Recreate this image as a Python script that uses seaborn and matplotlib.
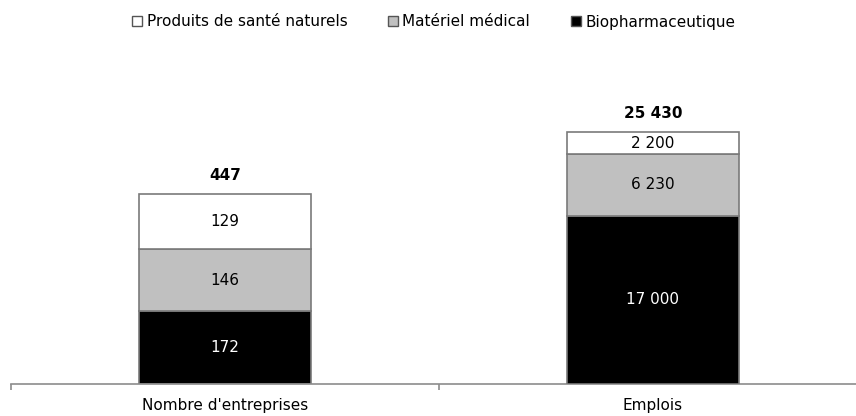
import matplotlib
matplotlib.use("Agg")
import matplotlib.pyplot as plt
from matplotlib.lines import Line2D
import seaborn as sns

# Data
categories = ["Nombre d'entreprises", "Emplois"]
series_names = ["Biopharmaceutique", "Matériel médical", "Produits de santé naturels"]
entreprises = [172, 146, 129]
emplois = [17000, 6230, 2200]
totals = [447, 25430]

colors = {"Biopharmaceutique": "#000000",
          "Matériel médical": "#c0c0c0",
          "Produits de santé naturels": "#ffffff"}
text_colors = {"Biopharmaceutique": "white",
               "Matériel médical": "black",
               "Produits de santé naturels": "black"}

sns.set_style("white")
plt.rcParams["font.family"] = ["DejaVu Sans"]
plt.rcParams["text.color"] = "black"
plt.rcParams["xtick.color"] = "black"
plt.rcParams["xtick.labelcolor"] = "black"
FS = 11


def fmt(v):
    return f"{v:,}".replace(",", " ")


fig = plt.figure(figsize=(8.56, 4.16), dpi=100)
ax = fig.add_axes([11 / 856, 32 / 416, 856 / 856, 297 / 416])
ax2 = ax.twinx()

edge = "#7a7a7a"
for axis, values, cat, total, ymax in [
    (ax, entreprises, categories[0], totals[0], 700),
    (ax2, emplois, categories[1], totals[1], 30000),
]:
    bottom = 0
    for name, v in zip(series_names, values):
        sns.barplot(x=[cat], y=[v], order=categories, bottom=bottom,
                    color=colors[name], saturation=1, width=0.4,
                    edgecolor=edge, linewidth=1.2, ax=axis)
        idx = categories.index(cat)
        axis.text(idx, bottom + v / 2, fmt(v), ha="center", va="center",
                  fontsize=FS, color=text_colors[name])
        bottom += v
    axis.text(categories.index(cat), total + ymax * 0.037, fmt(total),
              ha="center", va="bottom", fontsize=FS, fontweight="bold",
              color="black")
    axis.set_ylim(0, ymax)

for axis in (ax, ax2):
    axis.set_yticks([])
    axis.set_ylabel("")
    axis.set_xlabel("")
    for s in ("top", "left", "right", "bottom"):
        axis.spines[s].set_visible(False)

# Shared x axis: set ticks once, after all bars are drawn
ax.set_xlim(-0.5, 1.5)
ax.spines["bottom"].set_visible(True)
ax.spines["bottom"].set_color("#8c8c8c")
ax.spines["bottom"].set_linewidth(1.2)
ax.set_xticks([0, 1])
ax.set_xticklabels(categories, fontsize=FS, color="black")
ax.tick_params(axis="x", which="major", length=0, pad=10)
ax.set_xticks([-0.5, 0.5, 1.5], minor=True)
ax.tick_params(axis="x", which="minor", length=4, width=1.2,
               color="#8c8c8c", direction="out", bottom=True)
ax.xaxis.set_visible(True)
ax2.xaxis.set_visible(False)

handles = [Line2D([], [], marker="s", linestyle="none", markersize=7,
                  markerfacecolor=colors[n], markeredgecolor="#555555",
                  markeredgewidth=1.0, label=n)
           for n in reversed(series_names)]
leg = fig.legend(handles=handles, loc="center", ncol=3,
                 bbox_to_anchor=(434 / 856, 1 - 22 / 416), frameon=False,
                 fontsize=FS, handlelength=0.6, handletextpad=0.3,
                 columnspacing=2.7)
for t in leg.get_texts():
    t.set_color("black")

fig.savefig("out.png", dpi=100)
